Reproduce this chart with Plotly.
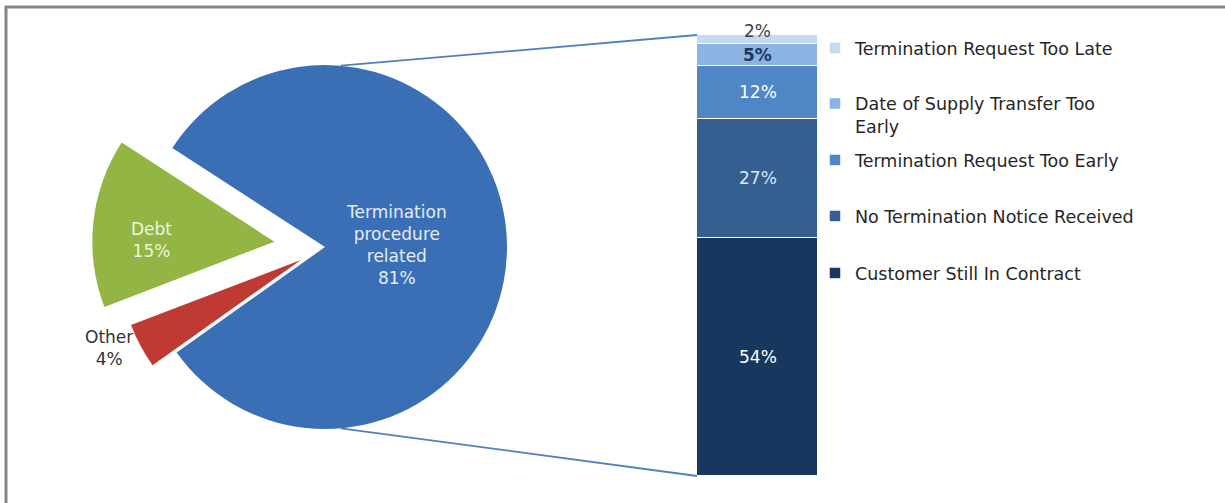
import math
import plotly.graph_objects as go

# ---------------- data ----------------
pie_labels = ["Termination procedure related", "Other", "Debt"]
pie_text = ["Termination<br>procedure<br>related<br>81%", "Other<br>4%", "Debt<br>15%"]
pie_values = [81, 4, 15]
pie_pull = [0, 0.15, 0.28]
pie_colors = ["#3A6FB6", "#BF3A33", "#92B543"]

bar_labels = ["Customer Still In Contract", "No Termination Notice Received",
              "Termination Request Too Early", "Date of Supply Transfer Too Early",
              "Termination Request Too Late"]
bar_legend_names = ["Customer Still In Contract", "No Termination Notice Received",
                    "Termination Request Too Early", "Date of Supply Transfer Too<br>Early",
                    "Termination Request Too Late"]
bar_values = [54, 27, 12, 5, 2]
bar_text = ["54%", "27%", "12%", "5%", "2%"]
bar_colors = ["#17375E", "#365F91", "#4F86C6", "#8DB3E2", "#C6D9F1"]

# ---------------- layout helpers ----------------
W, H = 1225, 503
FONT = "DejaVu Sans"
def px(xp):
    return xp / W
def py(yp):
    return 1 - yp / H

# pie geometry (pixels)
PCX, PCY, PR = 325, 247, 182
max_pull = max(pie_pull)
half = PR * (1 + max_pull)

# bar geometry (pixels)
BX0, BX1, BY0, BY1 = 697, 818, 35, 476

fig = go.Figure()

fig.add_trace(go.Pie(
    labels=pie_labels, values=pie_values, pull=pie_pull, sort=False,
    direction="clockwise", rotation=-57,
    marker=dict(colors=pie_colors, line=dict(width=0)),
    textinfo="none", hoverinfo="label+percent", showlegend=False,
    domain=dict(x=[px(PCX - half), px(PCX + half)], y=[py(PCY + half), py(PCY - half)]),
))

legend_centers = [273, 216, 160, 115, 48]
legend_keys = ["legend", "legend2", "legend3", "legend4", "legend5"]
for i, (lab, name, v, c) in enumerate(zip(bar_labels, bar_legend_names, bar_values, bar_colors)):
    fig.add_trace(go.Bar(
        x=[0], y=[v], name=name, width=1, xaxis="x", yaxis="y",
        marker=dict(color=c, line=dict(color="white", width=1.5)),
        hovertext=lab, hoverinfo="text+y",
        legend=legend_keys[i],
    ))

# bar labels
label_colors = ["#FFFFFF", "#DCE6F2", "#FFFFFF", "#1F3864", "#404040"]
label_bold = [False, False, False, True, False]
cum = 0
for i, (v, t) in enumerate(zip(bar_values, bar_text)):
    mid = cum + v / 2
    cum += v
    yv, ysh = (mid, 0) if i < len(bar_values) - 1 else (cum, 4)
    fig.add_annotation(
        x=0, y=yv, xref="x", yref="y", text=("<b>%s</b>" % t) if label_bold[i] else t,
        showarrow=False, yshift=ysh, xanchor="center", yanchor="middle",
        font=dict(family=FONT, size=17, color=label_colors[i]),
    )

# pie labels
pie_label_pos = [(396, 245), (109, 348), (151, 240)]
pie_label_colors = ["#E4EBF5", "#333333", "#EEF3E2"]
for t, (lx, ly), c in zip(pie_text, pie_label_pos, pie_label_colors):
    fig.add_annotation(x=px(lx), y=py(ly), xref="paper", yref="paper", text=t,
                       xanchor="center", yanchor="middle",
                       showarrow=False, font=dict(family=FONT, size=17, color=c))

# connector lines from pie to bar
for ang, by in [(85, BY0), (-85, BY1)]:
    x0 = PCX + PR * math.cos(math.radians(ang))
    y0 = PCY - PR * math.sin(math.radians(ang))
    fig.add_shape(type="line", xref="paper", yref="paper",
                  x0=px(x0), y0=py(y0), x1=px(BX0), y1=py(by),
                  line=dict(color="#4F81BD", width=1.8))

# outer frame
fig.add_shape(type="rect", xref="paper", yref="paper",
              x0=px(6), y0=py(7), x1=1.02, y1=-0.03,
              line=dict(color="#858585", width=3))

legend_common = dict(font=dict(family=FONT, size=17.5, color="#262626"),
                     bgcolor="rgba(0,0,0,0)", xanchor="left", yanchor="middle",
                     x=px(855 - 40), itemclick=False, itemdoubleclick=False)
layout_legends = {}
for k, cy in zip(legend_keys, legend_centers):
    d = dict(legend_common)
    d["y"] = py(cy)
    if k == "legend4":
        d["valign"] = "top"
    layout_legends[k] = d

fig.update_layout(
    width=W, height=H, margin=dict(l=0, r=0, t=0, b=0),
    paper_bgcolor="white", plot_bgcolor="white",
    barmode="stack", bargap=0,
    xaxis=dict(domain=[px(BX0), px(BX1)], range=[-0.5, 0.5], visible=False, fixedrange=True),
    yaxis=dict(domain=[py(BY1), py(BY0)], range=[0, 100], visible=False, fixedrange=True),
    showlegend=True,
    **layout_legends,
)

fig.write_html("out.html")
